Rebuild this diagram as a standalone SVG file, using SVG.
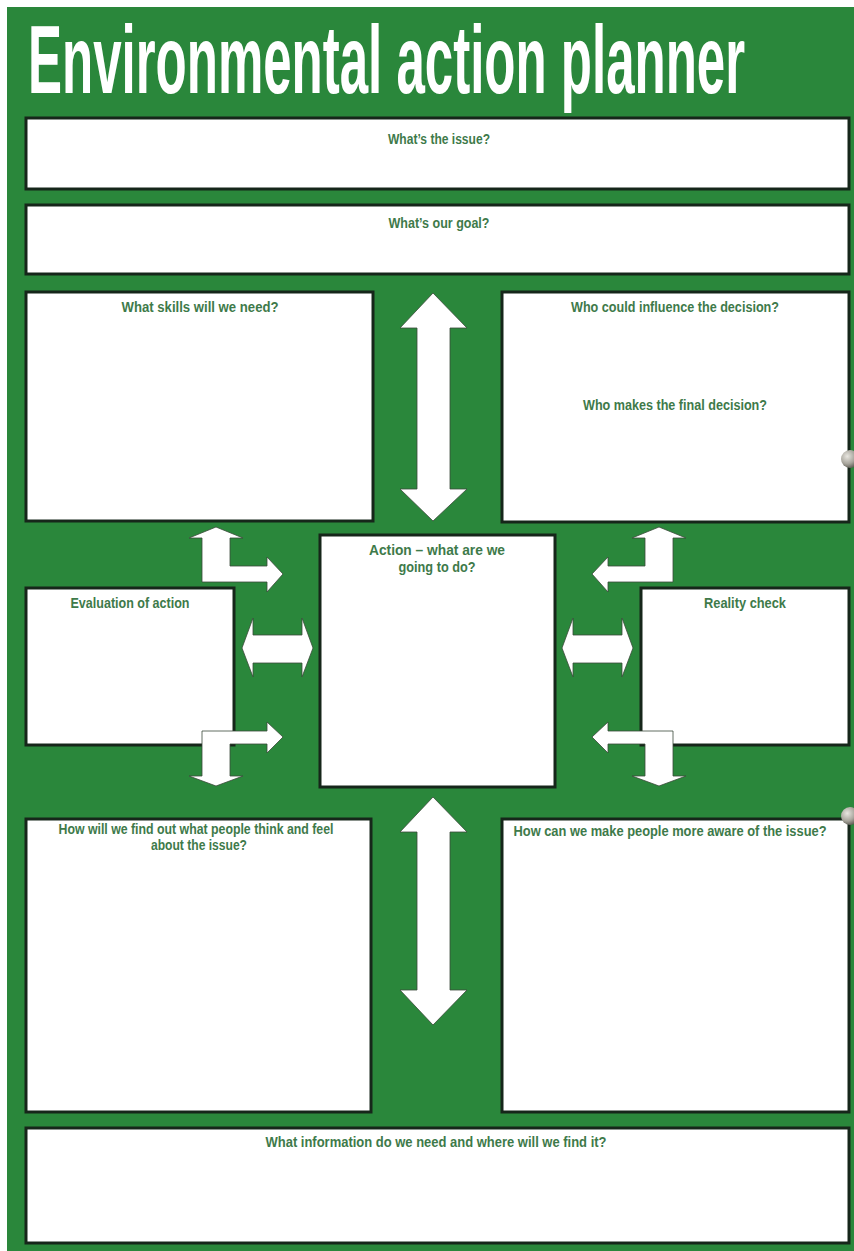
<svg xmlns="http://www.w3.org/2000/svg" width="854" height="1251" viewBox="0 0 854 1251">
  <defs>
    <style>
      .box { fill: #ffffff; stroke: #16261a; stroke-width: 3; }
      .lbl { font-family: "Liberation Sans Narrow", "Liberation Sans", Arial, sans-serif; font-weight: bold; font-size: 14px; fill: #3e7a4a; text-anchor: middle; }
      .arrow { fill: #ffffff; stroke: #3a4a3a; stroke-width: 0.8; stroke-linejoin: miter; }
      .title { font-family: "Liberation Sans Narrow", "Liberation Sans", Arial, sans-serif; font-size: 96px; font-weight: bold; fill: #ffffff; }
    </style>
    <radialGradient id="ring" cx="0.35" cy="0.35" r="0.7">
      <stop offset="0" stop-color="#e8e6e0"/>
      <stop offset="0.6" stop-color="#a8a59c"/>
      <stop offset="1" stop-color="#5a5850"/>
    </radialGradient>
  </defs>

  <rect x="0" y="0" width="854" height="1251" fill="#ffffff"/>
  <rect x="7" y="7" width="847" height="1244" fill="#2a873b"/>

  <g id="title" transform="translate(28,93) scale(0.52,1)">
    <text class="title" x="0" y="0" textLength="1379" lengthAdjust="spacingAndGlyphs">Environmental action planner</text>
  </g>

  <g id="node-issue">
    <rect class="box" x="26" y="118" width="823" height="71"/>
    <text class="lbl" x="439" y="144" textLength="102" lengthAdjust="spacingAndGlyphs">What’s the issue?</text>
  </g>
  <g id="node-goal">
    <rect class="box" x="26" y="205" width="823" height="69"/>
    <text class="lbl" x="439" y="228" textLength="101" lengthAdjust="spacingAndGlyphs">What’s our goal?</text>
  </g>
  <g id="node-skills">
    <rect class="box" x="26" y="292" width="347" height="229"/>
    <text class="lbl" x="200" y="312" textLength="157" lengthAdjust="spacingAndGlyphs">What skills will we need?</text>
  </g>
  <g id="node-decision">
    <rect class="box" x="502" y="292" width="347" height="230"/>
    <text class="lbl" x="675" y="312" textLength="208" lengthAdjust="spacingAndGlyphs">Who could influence the decision?</text>
    <text class="lbl" x="675" y="410" textLength="184" lengthAdjust="spacingAndGlyphs">Who makes the final decision?</text>
  </g>
  <g id="node-action">
    <rect class="box" x="320" y="535" width="235" height="252"/>
    <text class="lbl" x="437" y="555" textLength="136" lengthAdjust="spacingAndGlyphs">Action – what are we</text>
    <text class="lbl" x="437" y="572" textLength="77" lengthAdjust="spacingAndGlyphs">going to do?</text>
  </g>
  <g id="node-evaluation">
    <rect class="box" x="26" y="588" width="208" height="157"/>
    <text class="lbl" x="130" y="608" textLength="119" lengthAdjust="spacingAndGlyphs">Evaluation of action</text>
  </g>
  <g id="node-reality">
    <rect class="box" x="641" y="588" width="208" height="157"/>
    <text class="lbl" x="745" y="608" textLength="82" lengthAdjust="spacingAndGlyphs">Reality check</text>
  </g>
  <g id="node-feelings">
    <rect class="box" x="26" y="819" width="345" height="293"/>
    <text class="lbl" x="196" y="834" textLength="275" lengthAdjust="spacingAndGlyphs">How will we find out what people think and feel</text>
    <text class="lbl" x="199" y="850" textLength="96" lengthAdjust="spacingAndGlyphs">about the issue?</text>
  </g>
  <g id="node-aware">
    <rect class="box" x="502" y="819" width="347" height="293"/>
    <text class="lbl" x="670" y="836" textLength="313" lengthAdjust="spacingAndGlyphs">How can we make people more aware of the issue?</text>
  </g>
  <g id="node-information">
    <rect class="box" x="26" y="1128" width="823" height="115"/>
    <text class="lbl" x="436" y="1147" textLength="341" lengthAdjust="spacingAndGlyphs">What information do we need and where will we find it?</text>
  </g>

  <g id="connectors">
    <polygon class="arrow" points="433,293 467,328 450,328 450,489 467,489 433,521 400,489 417,489 417,328 400,328"/>
    <polygon class="arrow" points="433,797 467,832 450,832 450,990 467,990 433,1025 400,990 417,990 417,832 400,832"/>
    <polygon class="arrow" points="216,527 243,538 230,538 230,566 267,566 267,557 283,574 267,592 267,582 202,582 202,538 189,538"/>
    <polygon class="arrow" points="242,648 253,618 253,635 302,635 302,618 313,648 302,677 302,663 253,663 253,677"/>
    <polygon class="arrow" points="202,731 267,731 267,722 283,737 267,753 267,744 230,744 230,776 243,776 216,786 189,776 202,776"/>
    <polygon class="arrow" points="659,527 686,538 673,538 673,582 608,582 608,592 592,574 608,557 608,566 645,566 645,538 632,538"/>
    <polygon class="arrow" points="633,648 622,618 622,635 573,635 573,618 562,648 573,677 573,663 622,663 622,677"/>
    <polygon class="arrow" points="673,731 608,731 608,722 592,737 608,753 608,744 645,744 645,776 632,776 659,786 686,776 673,776"/>
  </g>

  <circle cx="850" cy="459" r="9" fill="url(#ring)"/>
  <circle cx="850" cy="816" r="9" fill="url(#ring)"/>
</svg>
